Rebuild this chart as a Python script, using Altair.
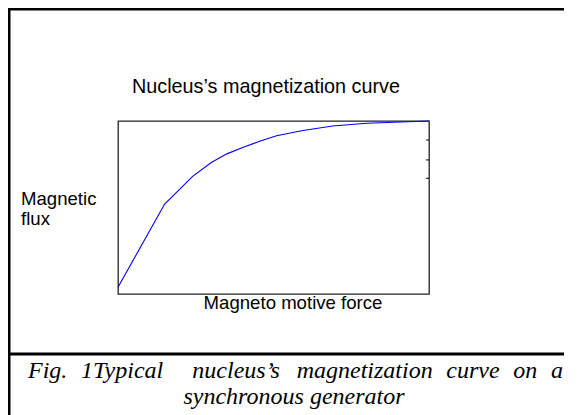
import altair as alt
import pandas as pd

# Curve data (relative units)
mmf = [0, 15, 24, 30, 35, 40.5, 46, 51, 59, 69, 80, 91, 100]
flux = [0.039, 0.52, 0.68, 0.76, 0.81, 0.85, 0.886, 0.915, 0.944, 0.971, 0.987, 0.994, 1.0]
right_ticks = [0.669, 0.775, 0.89]

title_text = "Nucleus\u2019s magnetization curve"
x_label = "Magneto motive force"
y_label = ["Magnetic", "flux"]
caption_words = ["Fig.", "1Typical", "", "nucleus\u2019s", "magnetization", "curve", "on", "a"]
caption_line2 = "synchronous generator"

# Times-Italic advance widths (per 1000 em) for justifying the first caption line
TI = {"F": 611, "i": 278, "g": 500, ".": 250, "1": 500, "T": 556, "y": 444, "p": 500,
      "c": 444, "a": 500, "l": 278, "n": 500, "u": 500, "e": 444, "s": 389, "\u2019": 333,
      "m": 722, "t": 278, "z": 389, "o": 500, "r": 389, "v": 444, "h": 500}

W, H = 311, 173
PL, PT = 110, 113
TOTAL_W, TOTAL_H = 556, 407

curve_df = pd.DataFrame({"mmf": mmf, "flux": flux})
tick_df = pd.DataFrame({"t": right_ticks})
one = alt.Data(values=[{"a": 1}])

xs = alt.Scale(domain=[0, 100], nice=False, zero=False)
ys = alt.Scale(domain=[0, 1], nice=False, zero=False)

line = alt.Chart(curve_df).mark_line(color="#0000ff", strokeWidth=1.1).encode(
    x=alt.X("mmf:Q", scale=xs, axis=None),
    y=alt.Y("flux:Q", scale=ys, axis=None),
)

ticks = alt.Chart(tick_df).mark_rule(color="black", strokeWidth=1).encode(
    y=alt.Y("t:Q", scale=ys, axis=None),
    x=alt.value(W - 3),
    x2=alt.value(W),
)

def rule(x, x2, y, y2, w):
    return alt.Chart(one).mark_rule(color="black", strokeWidth=w).encode(
        x=alt.value(x), x2=alt.value(x2), y=alt.value(y), y2=alt.value(y2)
    )

border_top = rule(-110.5, 480, -112, -112, 3)
border_left = rule(-109, -109, -113, 300, 3)
separator = rule(-110.5, 480, 233, 233, 3)

def text(t, x, y, size, font, align="center", italic=False, baseline="middle"):
    kw = dict(fontSize=size, font=font, align=align, baseline=baseline, color="black")
    if italic:
        kw["fontStyle"] = "italic"
    return alt.Chart(one).mark_text(**kw).encode(
        x=alt.value(x), y=alt.value(y), text=alt.value(t)
    )

SANS = "Liberation Sans"
SERIF = "Liberation Serif"
title = text(title_text, 148, -34, 19.8, SANS)
xlab = text(x_label, 175, 182, 18.6, SANS)
ylab1 = text(y_label[0], -97, 84, 18.6, SANS, align="left", baseline="alphabetic")
ylab2 = text(y_label[1], -97, 104, 18.6, SANS, align="left", baseline="alphabetic")

# justified first caption line
CAP = 24
left_px, right_px = 28 - 8 - PL, 563 - 8 - PL
widths = [sum(TI.get(c, 500) for c in w) * CAP / 1000 for w in caption_words]
gaps = len(caption_words) - 1
extra = (right_px - left_px - sum(widths)) / gaps
cap_layers = []
xpos = left_px
for w, wd in zip(caption_words, widths):
    if w:
        cap_layers.append(text(w, xpos, 250, CAP, SERIF, align="left", italic=True))
    xpos += wd + extra
cap2 = text(caption_line2, 176, 276, CAP, SERIF, italic=True)

chart = alt.layer(
    line, ticks, border_top, border_left, separator,
    title, xlab, ylab1, ylab2, *cap_layers, cap2,
).properties(
    width=W, height=H,
    autosize=alt.AutoSizeParams(type="none"),
    padding={"left": PL, "top": PT, "right": TOTAL_W - PL - W, "bottom": TOTAL_H - PT - H},
).configure_view(stroke="#222222", strokeWidth=1.3)

chart.save("out.html", embed_options={"renderer": "svg", "actions": False})
